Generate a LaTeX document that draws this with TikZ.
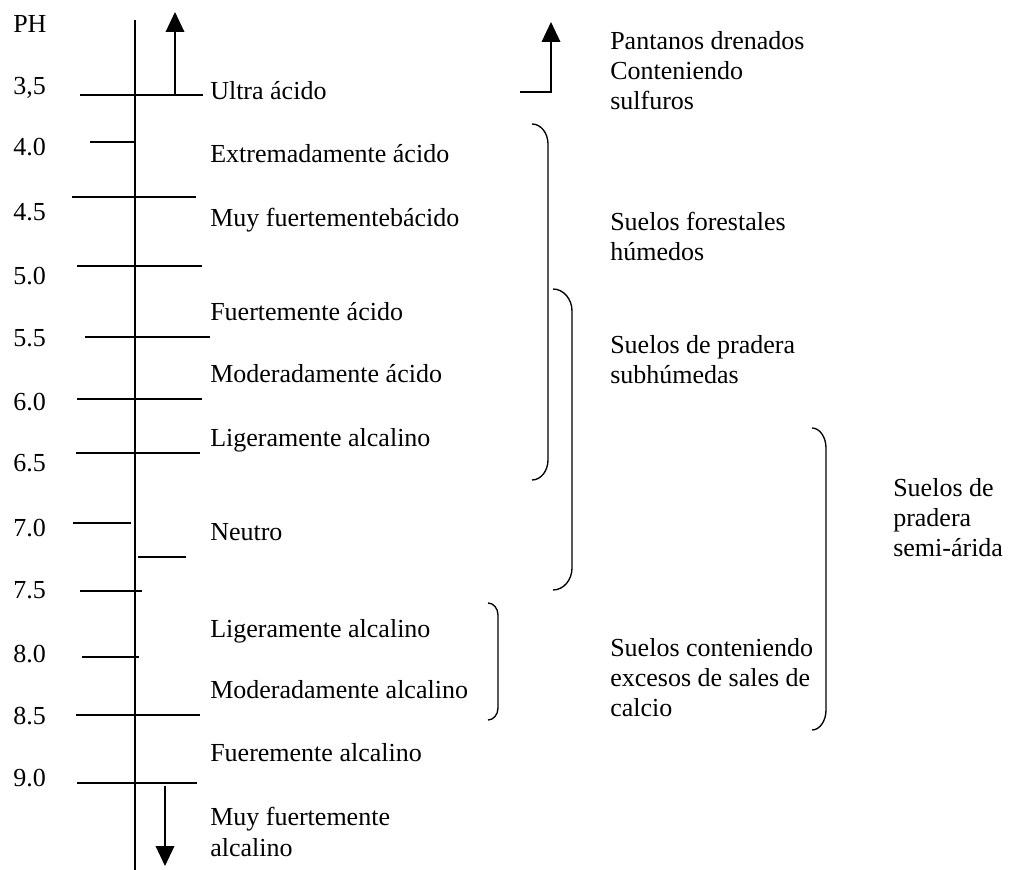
\documentclass[tikz,border=0pt]{standalone}
\usepackage{fontspec}
\setmainfont{Liberation Serif}
\usetikzlibrary{arrows.meta}
\tikzset{
    % Solid triangle heads, as on the scale
    >={Triangle[length=15pt, width=14pt]},
%
    % Lines of the scale
    scale line/.style={line width=1pt},
    tick line/.style={line width=1pt},
    brace line/.style={line width=1pt},
%
    % Texts, all set on the baseline of their last line
    scale label/.style={anchor=base west, inner sep=0},
    class label/.style={anchor=base west, inner sep=0, align=left},
    every node/.style={font=\fontsize{19.5}{22.5}\selectfont},
}

\begin{document}
\begin{tikzpicture}[x={(0.75pt,0)}, y={(0,-0.75pt)}]

\newcommand{\soilbrace}[5]{% x tip, x stem, top, bottom, bend
    \draw [brace line]
        (#1,#3) .. controls ({0.45*#1+0.55*#2},#3) and (#2,{#3+0.45*#5})
        .. (#2,#3+#5) -- (#2,#4-#5)
        .. controls (#2,{#4-0.45*#5}) and ({0.45*#1+0.55*#2},#4) .. (#1,#4);
}

\useasboundingbox (0,0) rectangle (1021,870);

% The pH axis and its ticks
\coordinate (axis top) at (135,20);
\coordinate (axis bottom) at (135,870);
\draw [scale line] (axis top) -- (axis bottom);

\foreach \yy/\xa/\xb in {95/80/203, 142/90/135, 197/72/196, 266/77/202,
    337/85/210, 399/77/202, 453/76/200, 523/73/131, 557/138/186,
    591/80/142, 657/82/139, 715/76/200, 783/77/197}
{
    \draw [tick line] (\xa,\yy) -- (\xb,\yy);
}

\foreach \yy/\val in {33/PH, 95/{3,5}, 156/4.0, 220/4.5, 284/5.0,
    346/5.5, 410/6.0, 471/6.5, 536/7.0, 598/7.5, 662/8.0, 724/8.5, 786/9.0}
{
    \node [scale label] (ph-\yy) at (13,\yy) {\val};
}

% Open ends of the scale
\coordinate (acid start) at (175,95);
\coordinate (acid end) at (175,12);
\draw [->, scale line] (acid start) -- (acid end);
\coordinate (base start) at (165,786);
\coordinate (base end) at (165,866);
\draw [->, scale line] (base start) -- (base end);

% Classes of reaction
\node [class label] (ultra) at (210,100) {Ultra ácido};
\node [class label] (extrem) at (210,163) {Extremadamente ácido};
\node [class label] (muyfuerte) at (210,226) {Muy fuertementebácido};
\node [class label] (fuerte) at (210,320) {Fuertemente ácido};
\node [class label] (moder) at (210,382) {Moderadamente ácido};
\node [class label] (liger) at (210,446) {Ligeramente alcalino};
\node [class label] (neutro) at (210,540) {Neutro};
\node [class label] (ligalc) at (210,637) {Ligeramente alcalino};
\node [class label] (modalc) at (210,698) {Moderadamente alcalino};
\node [class label] (fueralc) at (210,761) {Fueremente alcalino};
\node [class label, font=\fontsize{19.5}{23.25}\selectfont] (muyalc)
    at (210,856) {Muy fuertemente\\alcalino};

% Soils
\coordinate (swamp foot) at (520,92);
\coordinate (swamp top) at (551,22);
\draw [->, scale line] (swamp foot) -| (swamp top);
\node [class label] (swamp) at (610,110)
    {Pantanos drenados\\Conteniendo\\sulfuros};

\soilbrace{532}{548}{124}{480}{20}
\soilbrace{553}{572}{289}{590}{22}
\soilbrace{488}{498}{603}{720}{12}
\soilbrace{812}{826}{428}{730}{20}

\node [class label] (forest) at (610,260) {Suelos forestales\\húmedos};
\node [class label] (subhum) at (610,383) {Suelos de pradera\\subhúmedas};
\node [class label] (semiarid) at (893,556) {Suelos de\\pradera\\semi-árida};
\node [class label] (calcic) at (610,716)
    {Suelos conteniendo\\excesos de sales de\\calcio};

\end{tikzpicture}
\end{document}
